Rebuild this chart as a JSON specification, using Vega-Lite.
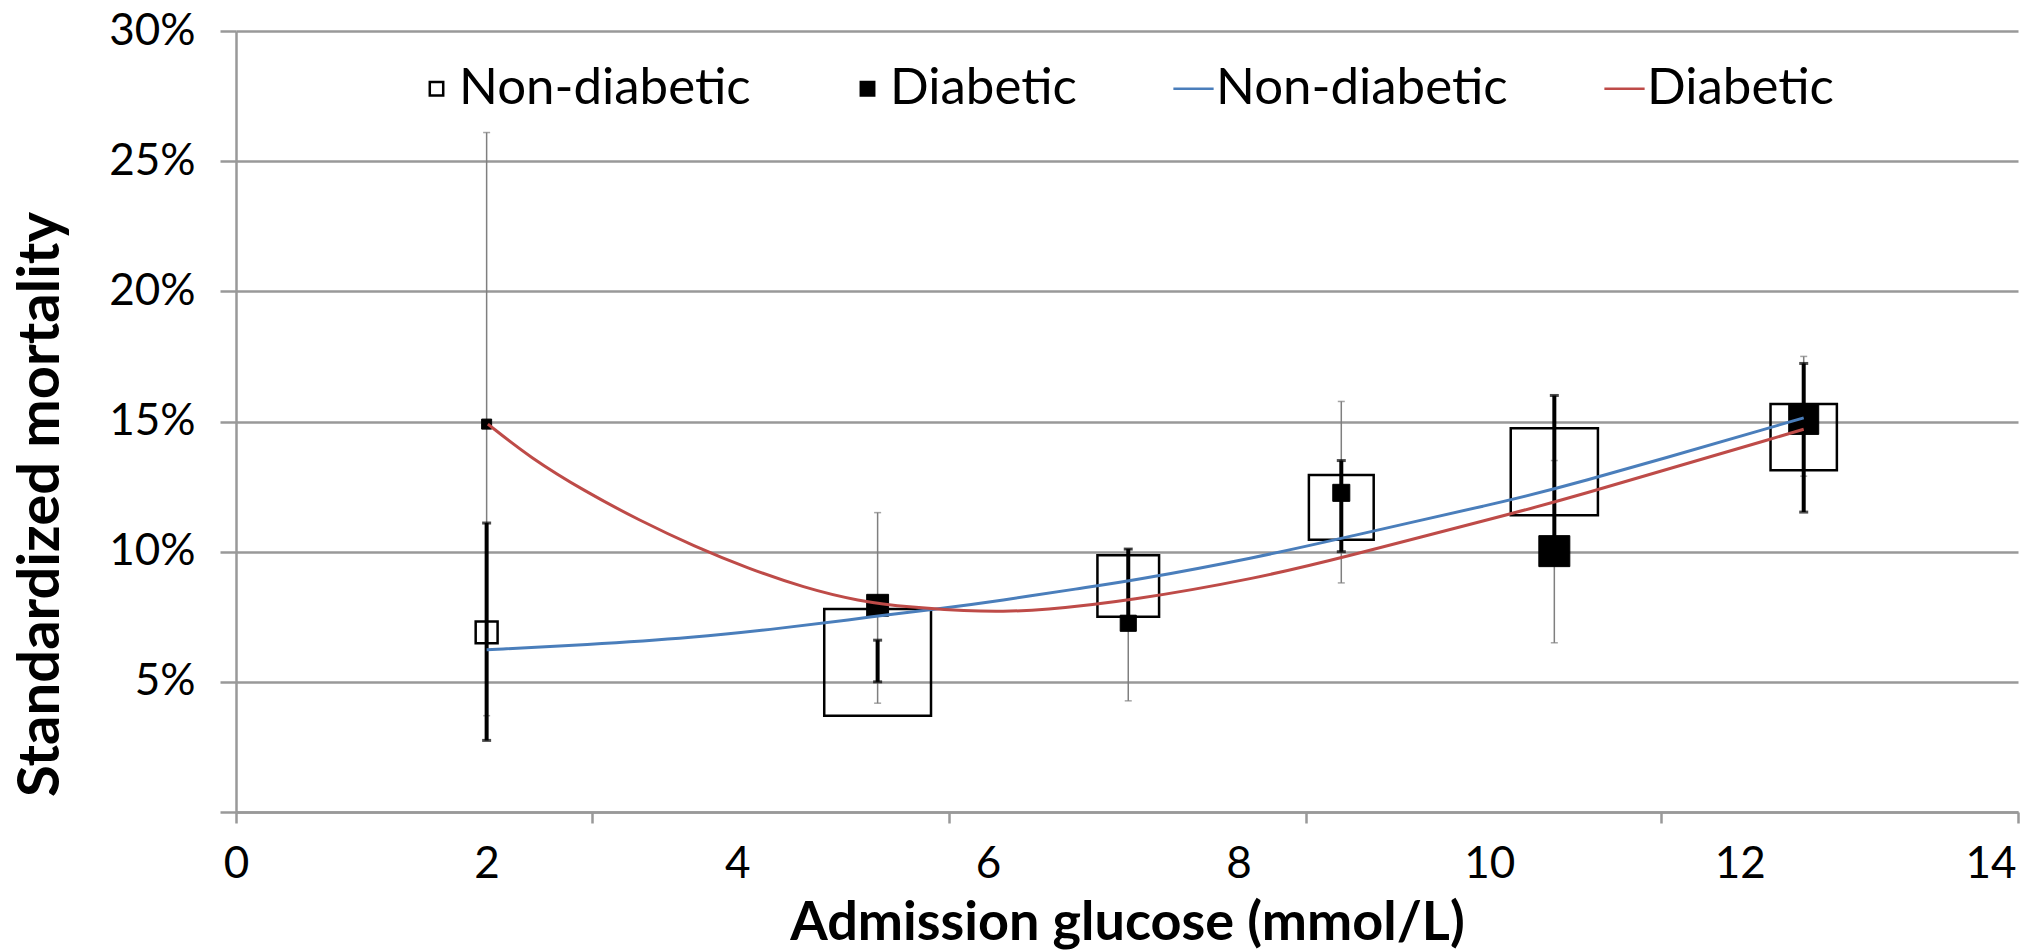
{
  "$schema": "https://vega.github.io/schema/vega-lite/v6.json",
  "width": 1782,
  "height": 781,
  "autosize": {"type": "none"},
  "padding": {"left": 236, "top": 31, "right": 18, "bottom": 140},
  "background": "white",
  "config": {
    "view": {"stroke": null},
    "font": "Lato",
    "legend": {
      "orient": "none",
      "legendX": 175,
      "legendY": 32,
      "direction": "horizontal",
      "columns": 4,
      "columnPadding": 91,
      "labelOffset": -3,
      "labelFont": "Lato",
      "labelFontSize": 51,
      "labelColor": "black",
      "labelLimit": 1000,
      "symbolSize": 180,
      "symbolStrokeWidth": 2.5
    }
  },
  "datasets": {
    "observed": [
      {"x": 2.0, "mort": 0.069, "lo": 0.0275, "hi": 0.111, "group": "Non-diabetic (observed)", "weight": 4.8},
      {"x": 5.12, "mort": 0.0575, "lo": 0.050, "hi": 0.066, "group": "Non-diabetic (observed)", "weight": 114},
      {"x": 7.12, "mort": 0.0868, "lo": 0.072, "hi": 0.101, "group": "Non-diabetic (observed)", "weight": 38},
      {"x": 8.82, "mort": 0.117, "lo": 0.100, "hi": 0.135, "group": "Non-diabetic (observed)", "weight": 42},
      {"x": 10.52, "mort": 0.1307, "lo": 0.101, "hi": 0.160, "group": "Non-diabetic (observed)", "weight": 76},
      {"x": 12.51, "mort": 0.144, "lo": 0.1152, "hi": 0.1723, "group": "Non-diabetic (observed)", "weight": 44},
      {"x": 2.0, "mort": 0.149, "lo": 0.037, "hi": 0.261, "group": "Diabetic (observed)", "weight": 1.0},
      {"x": 5.12, "mort": 0.0794, "lo": 0.0418, "hi": 0.115, "group": "Diabetic (observed)", "weight": 4.8},
      {"x": 7.12, "mort": 0.0725, "lo": 0.0427, "hi": 0.101, "group": "Diabetic (observed)", "weight": 2.6},
      {"x": 8.82, "mort": 0.1226, "lo": 0.088, "hi": 0.1577, "group": "Diabetic (observed)", "weight": 2.9},
      {"x": 10.52, "mort": 0.1002, "lo": 0.065, "hi": 0.135, "group": "Diabetic (observed)", "weight": 9.6},
      {"x": 12.51, "mort": 0.1508, "lo": 0.129, "hi": 0.175, "group": "Diabetic (observed)", "weight": 9.0}
    ],
    "curves": [
      {"x": 2.0, "mort": 0.0623, "group": "Non-diabetic (fit)"},
      {"x": 2.79, "mort": 0.0642, "group": "Non-diabetic (fit)"},
      {"x": 3.66, "mort": 0.067, "group": "Non-diabetic (fit)"},
      {"x": 4.34, "mort": 0.0705, "group": "Non-diabetic (fit)"},
      {"x": 4.96, "mort": 0.0742, "group": "Non-diabetic (fit)"},
      {"x": 5.12, "mort": 0.0753, "group": "Non-diabetic (fit)"},
      {"x": 5.6, "mort": 0.078, "group": "Non-diabetic (fit)"},
      {"x": 6.1, "mort": 0.0812, "group": "Non-diabetic (fit)"},
      {"x": 6.74, "mort": 0.086, "group": "Non-diabetic (fit)"},
      {"x": 7.12, "mort": 0.0885, "group": "Non-diabetic (fit)"},
      {"x": 8.17, "mort": 0.098, "group": "Non-diabetic (fit)"},
      {"x": 8.81, "mort": 0.105, "group": "Non-diabetic (fit)"},
      {"x": 10.09, "mort": 0.119, "group": "Non-diabetic (fit)"},
      {"x": 10.53, "mort": 0.1238, "group": "Non-diabetic (fit)"},
      {"x": 12.51, "mort": 0.1514, "group": "Non-diabetic (fit)"},
      {"x": 2.01, "mort": 0.149, "group": "Diabetic (fit)"},
      {"x": 2.35, "mort": 0.136, "group": "Diabetic (fit)"},
      {"x": 2.79, "mort": 0.123, "group": "Diabetic (fit)"},
      {"x": 3.22, "mort": 0.112, "group": "Diabetic (fit)"},
      {"x": 3.66, "mort": 0.102, "group": "Diabetic (fit)"},
      {"x": 4.09, "mort": 0.0935, "group": "Diabetic (fit)"},
      {"x": 4.53, "mort": 0.0862, "group": "Diabetic (fit)"},
      {"x": 4.96, "mort": 0.081, "group": "Diabetic (fit)"},
      {"x": 5.4, "mort": 0.0785, "group": "Diabetic (fit)"},
      {"x": 5.83, "mort": 0.0772, "group": "Diabetic (fit)"},
      {"x": 6.12, "mort": 0.077, "group": "Diabetic (fit)"},
      {"x": 6.42, "mort": 0.0775, "group": "Diabetic (fit)"},
      {"x": 7.12, "mort": 0.081, "group": "Diabetic (fit)"},
      {"x": 8.17, "mort": 0.090, "group": "Diabetic (fit)"},
      {"x": 8.81, "mort": 0.0975, "group": "Diabetic (fit)"},
      {"x": 10.09, "mort": 0.1135, "group": "Diabetic (fit)"},
      {"x": 10.53, "mort": 0.119, "group": "Diabetic (fit)"},
      {"x": 12.51, "mort": 0.147, "group": "Diabetic (fit)"}
    ]
  },
  "resolve": {"axis": {"x": "independent"}},
  "layer": [
    {
      "data": {"name": "observed"},
      "transform": [{"filter": "datum.group == 'Diabetic (observed)'"}],
      "mark": {"type": "rule", "color": "#7f7f7f", "strokeWidth": 1.5},
      "encoding": {
        "x": {
          "field": "x", "type": "quantitative",
          "scale": {"domain": [0, 14.22], "nice": false, "zero": false},
          "axis": {
            "orient": "bottom",
            "values": [0, 2, 4, 6, 8, 10, 12, 14],
            "format": "d",
            "ticks": false,
            "tickSize": 0,
            "labelPadding": 30,
            "labelFont": "Lato",
            "labelFontSize": 44,
            "labelColor": "black",
            "labelFlush": false,
            "labelOverlap": false,
            "domainColor": "#999999",
            "domainWidth": 2.5,
            "grid": false,
            "title": "Admission glucose (mmol/L)",
            "titleFont": "Lato",
            "titleFontSize": 54,
            "titleFontWeight": "bold",
            "titleColor": "black",
            "titleY": 127,
            "titleBaseline": "alphabetic"
          }
        },
        "y": {
          "field": "lo", "type": "quantitative",
          "scale": {"domain": [0, 0.3], "nice": false},
          "axis": {
            "values": [0, 0.05, 0.1, 0.15, 0.2, 0.25, 0.3],
            "labelExpr": "datum.value == 0 ? '' : format(datum.value, '.0%')",
            "grid": true,
            "gridColor": "#999999",
            "gridWidth": 2.5,
            "domainColor": "#999999",
            "domainWidth": 2.5,
            "tickColor": "#999999",
            "tickWidth": 2.5,
            "tickSize": 16,
            "labelPadding": 25,
            "labelFont": "Lato",
            "labelFontSize": 44,
            "labelColor": "black",
            "labelFlush": false,
            "title": "Standardized mortality",
            "titleFont": "Lato",
            "titleFontSize": 58,
            "titleFontWeight": "bold",
            "titleColor": "black",
            "titleX": -178,
            "titleY": 473,
            "titleAngle": -90,
            "titleAlign": "center",
            "titleBaseline": "alphabetic"
          }
        },
        "y2": {"field": "hi"}
      }
    },
    {
      "data": {"name": "observed"},
      "transform": [
        {"filter": "datum.group == 'Diabetic (observed)'"},
        {"fold": ["lo", "hi"], "as": ["end", "val"]}
      ],
      "mark": {"type": "tick", "orient": "horizontal", "size": 7, "thickness": 1.5, "color": "#7f7f7f"},
      "encoding": {
        "x": {"field": "x", "type": "quantitative", "axis": null},
        "y": {"field": "val", "type": "quantitative"}
      }
    },
    {
      "data": {"name": "observed"},
      "transform": [{"filter": "datum.group == 'Non-diabetic (observed)'"}],
      "mark": {"type": "point", "filled": true, "opacity": 1, "strokeWidth": 2.5},
      "encoding": {
        "x": {
          "field": "x", "type": "quantitative",
          "axis": {
            "orient": "bottom",
            "values": [0, 2.84, 5.69, 8.54, 11.37, 14.22],
            "labels": false,
            "domain": false,
            "grid": false,
            "ticks": true,
            "tickSize": 11,
            "tickColor": "#999999",
            "tickWidth": 2.5,
            "title": null
          }
        },
        "y": {"field": "mort", "type": "quantitative"},
        "size": {"field": "weight", "type": "quantitative", "scale": {"type": "linear", "domain": [0, 120], "range": [0, 12000]}, "legend": null},
        "shape": {
          "field": "group", "type": "nominal",
          "scale": {"domain": ["Non-diabetic (observed)", "Diabetic (observed)", "Non-diabetic (fit)", "Diabetic (fit)"], "range": ["square", "square", "M-3,0H3", "M-3,0H3"]},
          "legend": {"title": null, "labelExpr": "split(datum.label, ' (')[0]"}
        },
        "fill": {
          "field": "group", "type": "nominal",
          "scale": {"domain": ["Non-diabetic (observed)", "Diabetic (observed)", "Non-diabetic (fit)", "Diabetic (fit)"], "range": ["transparent", "black", "transparent", "transparent"]},
          "legend": {"title": null, "labelExpr": "split(datum.label, ' (')[0]"}
        },
        "stroke": {
          "field": "group", "type": "nominal",
          "scale": {"domain": ["Non-diabetic (observed)", "Diabetic (observed)", "Non-diabetic (fit)", "Diabetic (fit)"], "range": ["black", "black", "#4a7ebb", "#be4b48"]},
          "legend": {"title": null, "labelExpr": "split(datum.label, ' (')[0]"}
        }
      }
    },
    {
      "data": {"name": "observed"},
      "transform": [{"filter": "datum.group == 'Non-diabetic (observed)'"}],
      "mark": {"type": "rule", "color": "black", "strokeWidth": 4},
      "encoding": {
        "x": {"field": "x", "type": "quantitative", "axis": null},
        "y": {"field": "lo", "type": "quantitative"},
        "y2": {"field": "hi"}
      }
    },
    {
      "data": {"name": "observed"},
      "transform": [
        {"filter": "datum.group == 'Non-diabetic (observed)'"},
        {"fold": ["lo", "hi"], "as": ["end", "val"]}
      ],
      "mark": {"type": "tick", "orient": "horizontal", "size": 9, "thickness": 3, "color": "black"},
      "encoding": {
        "x": {"field": "x", "type": "quantitative", "axis": null},
        "y": {"field": "val", "type": "quantitative"}
      }
    },
    {
      "data": {"name": "observed"},
      "transform": [{"filter": "datum.group == 'Diabetic (observed)'"}],
      "mark": {"type": "point", "filled": true, "opacity": 1, "strokeWidth": 1},
      "encoding": {
        "x": {"field": "x", "type": "quantitative", "axis": null},
        "y": {"field": "mort", "type": "quantitative"},
        "size": {"field": "weight", "type": "quantitative", "legend": null},
        "shape": {"field": "group", "type": "nominal"},
        "fill": {"field": "group", "type": "nominal"},
        "stroke": {"field": "group", "type": "nominal"}
      }
    },
    {
      "data": {"name": "curves"},
      "mark": {"type": "line", "strokeWidth": 3, "interpolate": "basis"},
      "encoding": {
        "x": {"field": "x", "type": "quantitative", "axis": null},
        "y": {"field": "mort", "type": "quantitative"},
        "stroke": {"field": "group", "type": "nominal"}
      }
    }
  ]
}
